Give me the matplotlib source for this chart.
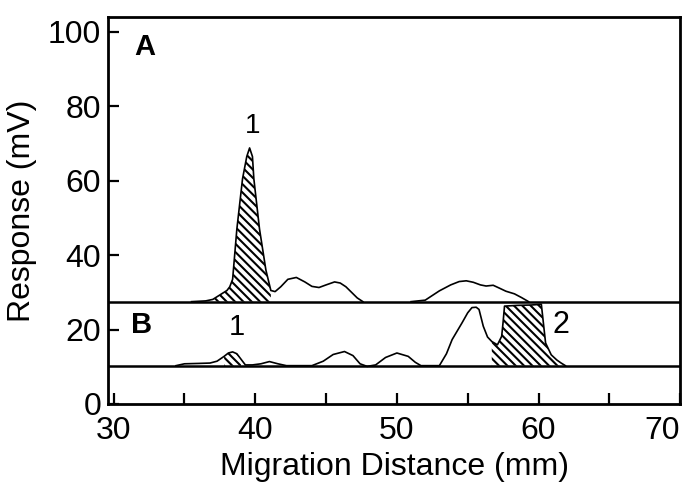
import matplotlib
matplotlib.use("Agg")
import matplotlib.pyplot as plt
import numpy as np

plt.rcParams['font.family'] = ['Liberation Sans', 'DejaVu Sans']
plt.rcParams['hatch.linewidth'] = 1.5

# Baselines (mV)
base_A = 27.5
base_B = 10.3

# Trace A, peak group 1
A1_x = [35.5, 36.5, 37.0, 37.5, 38.0, 38.2, 38.4, 38.7, 39.1, 39.4, 39.6, 39.8, 39.9, 40.3,
        40.75, 41.1, 41.4, 41.8, 42.3, 42.9, 43.5, 44.0, 44.5, 45.0, 45.6, 46.0, 46.4, 46.8,
        47.2, 47.6]
A1_y = [27.5, 27.7, 28.1, 29.3, 30.5, 31.5, 33.5, 47.0, 60.5, 66.5, 68.8, 66.5, 60.5, 47.0,
        36.0, 30.5, 30.2, 31.5, 33.5, 34.0, 32.8, 31.6, 31.3, 32.0, 32.8, 32.5, 31.5, 30.0,
        28.5, 27.5]
# Trace A, peak group 2
A2_x = [51.0, 52.0, 53.0, 53.8, 54.4, 54.9, 55.4, 55.9, 56.3, 56.8, 57.2, 57.7, 58.3, 58.8, 59.3]
A2_y = [27.5, 27.9, 30.4, 32.0, 32.9, 33.1, 32.7, 32.0, 31.7, 31.9, 31.2, 30.3, 29.6, 28.6, 27.5]

# Trace B
B_x = [34.4, 35.0, 36.0, 36.8, 37.3, 37.8, 38.1, 38.4, 38.7, 39.0, 39.3, 39.8, 40.4, 41.0,
       41.6, 42.2, 44.0, 44.8, 45.5, 46.3, 46.9, 47.4, 47.9, 48.5, 49.2, 50.0, 50.8, 51.3,
       51.7, 53.0, 53.5, 53.9, 54.6, 55.0, 55.3, 55.6, 55.8, 56.1, 56.4, 56.7, 57.1, 57.4,
       57.5, 57.6, 58.5, 59.5, 60.2, 60.5, 60.9, 61.3, 61.6, 61.9]
B_y = [10.3, 10.8, 10.9, 11.0, 11.5, 12.8, 13.7, 14.0, 13.5, 12.0, 10.5, 10.5, 10.8, 11.4,
       10.8, 10.3, 10.3, 11.5, 13.3, 14.1, 13.0, 10.8, 10.1, 10.5, 12.5, 13.7, 12.8, 11.2,
       10.3, 10.3, 13.5, 17.3, 21.8, 24.5, 25.9, 26.0, 25.4, 20.9, 18.0, 16.8, 15.9, 18.2,
       22.0, 26.3, 26.5, 26.6, 26.8, 16.4, 13.2, 11.8, 11.0, 10.3]

# Hatched (integrated) ranges
hatch_A = (37.0, 41.1)
hatch_B1 = (37.8, 39.0)
hatch_B2 = (56.7, 61.9)

# Labels
x_ticks_major = [30, 40, 50, 60, 70]
x_ticks_minor = [35, 45, 55, 65]
y_ticks = [0, 20, 40, 60, 80, 100]

fig = plt.figure(figsize=(6.94, 4.84), dpi=100)
ax = fig.add_axes([0.1556, 0.1653, 0.8244, 0.7997])

lw_trace = 1.2
ax.axhline(base_A, color='black', lw=1.8)
ax.axhline(base_B, color='black', lw=1.8)

A1x, A1y = np.array(A1_x), np.array(A1_y)
A2x, A2y = np.array(A2_x), np.array(A2_y)
Bx, By = np.array(B_x), np.array(B_y)

ax.plot(A1x, A1y, color='black', lw=lw_trace)
ax.plot(A2x, A2y, color='black', lw=lw_trace)
ax.plot(Bx, By, color='black', lw=lw_trace)

hp = '\\' * 4
m = (A1x >= hatch_A[0]) & (A1x <= hatch_A[1])
ax.fill_between(A1x[m], base_A, A1y[m], facecolor='none', edgecolor='black', hatch=hp, lw=0)
for lo, hi in (hatch_B1, hatch_B2):
    m = (Bx >= lo) & (Bx <= hi)
    ax.fill_between(Bx[m], base_B, By[m], facecolor='none', edgecolor='black', hatch=hp, lw=0)

fs = 23
ax.text(32.2, 96, 'A', fontsize=21, fontweight='bold', ha='center', va='center')
ax.text(32.0, 21.3, 'B', fontsize=21, fontweight='bold', ha='center', va='center')
ax.text(39.8, 74.6, '1', fontsize=20, ha='center', va='center')
ax.text(38.7, 20.8, '1', fontsize=21, ha='center', va='center')
ax.text(61.6, 21.3, '2', fontsize=22, ha='center', va='center')

ax.set_xlim(29.6, 70.0)
ax.set_ylim(0, 104)
ax.set_xticks(x_ticks_major)
ax.set_xticks(x_ticks_minor, minor=True)
ax.set_yticks(y_ticks)
ax.tick_params(axis='both', which='both', direction='in', width=1.6, labelsize=fs)
ax.tick_params(axis='x', which='both', length=8, pad=9)
ax.tick_params(axis='y', which='both', length=8, pad=5)
ax.get_xticklabels()[-1].set_horizontalalignment('right')
for s in ax.spines.values():
    s.set_linewidth(2.0)

ax.set_xlabel('Migration Distance (mm)', fontsize=fs, labelpad=4)
ax.set_ylabel('Response (mV)', fontsize=fs, labelpad=8)

fig.savefig('out.png', dpi=100)
